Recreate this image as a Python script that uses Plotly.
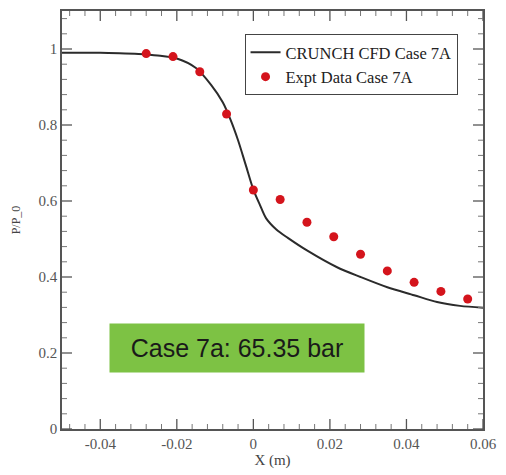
import plotly.graph_objects as go

# CFD curve
cfd_x = [-0.05, -0.04, -0.035, -0.03, -0.025, -0.02, -0.015, -0.011, -0.008, -0.006,
         -0.004, -0.002, 0.0, 0.0017, 0.0033, 0.006, 0.009, 0.014, 0.022, 0.028,
         0.035, 0.042, 0.048, 0.054, 0.06]
cfd_y = [0.99, 0.99, 0.989, 0.987, 0.983, 0.975, 0.950, 0.905, 0.86, 0.815,
         0.76, 0.695, 0.63, 0.59, 0.555, 0.525, 0.503, 0.47, 0.425, 0.40,
         0.373, 0.352, 0.334, 0.324, 0.319]

# Experimental data
exp_x = [-0.028, -0.021, -0.014, -0.007, 0.0, 0.007, 0.014, 0.021, 0.028, 0.035, 0.042, 0.049, 0.056]
exp_y = [0.988, 0.980, 0.940, 0.829, 0.629, 0.604, 0.544, 0.506, 0.460, 0.416, 0.386, 0.362, 0.342]

# Tick values / labels
x_tickvals = [-0.04, -0.02, 0, 0.02, 0.04, 0.06]
x_ticktext = ["-0.04", "-0.02", "0", "0.02", "0.04", "0.06"]
y_tickvals = [0, 0.2, 0.4, 0.6, 0.8, 1.0]
y_ticktext = ["0", "0.2", "0.4", "0.6", "0.8", "1"]
x_minorvals = [round(-0.048 + 0.004 * i, 4) for i in range(28)]
y_minorvals = [round(0.04 * i, 4) for i in range(28)]

serif = "Liberation Serif, Times New Roman, serif"
frame = "#555555"

fig = go.Figure()
fig.add_trace(go.Scatter(x=cfd_x, y=cfd_y, mode="lines", name="CRUNCH CFD Case 7A",
                         line=dict(color="#2b2b2b", width=2, shape="spline", smoothing=0.8)))
fig.add_trace(go.Scatter(x=exp_x, y=exp_y, mode="markers", name="Expt Data Case 7A",
                         marker=dict(color="#d4141c", size=9, line=dict(width=0))))

fig.update_xaxes(range=[-0.05, 0.06], tickmode="array", tickvals=x_tickvals, ticktext=x_ticktext,
                 ticks="", showline=True, linecolor=frame, linewidth=1.5, mirror=True,
                 zeroline=False, showgrid=False,
                 tickfont=dict(family=serif, size=15, color="#555555"),
                 title=dict(text="X (m)", font=dict(family=serif, size=15, color="#444444"), standoff=4))
fig.update_yaxes(range=[0, 1.1], tickmode="array", tickvals=y_tickvals, ticktext=y_ticktext,
                 ticks="", showline=True, linecolor=frame, linewidth=1.5, mirror=True,
                 zeroline=False, showgrid=False,
                 tickfont=dict(family=serif, size=15, color="#555555"),
                 title=dict(text="P/P_0", font=dict(family=serif, size=12, color="#444444")))

# Inside tick marks on all four sides, placed through the axis scales
def x_tick(v, length, width, color):
    for anchor, sign in ((0, 1), (1, -1)):
        fig.add_shape(type="line", xref="x", yref="paper", x0=v, x1=v,
                      ysizemode="pixel", yanchor=anchor, y0=0, y1=sign * length,
                      line=dict(color=color, width=width))

def y_tick(v, length, width, color):
    for anchor, sign in ((0, 1), (1, -1)):
        fig.add_shape(type="line", yref="y", xref="paper", y0=v, y1=v,
                      xsizemode="pixel", xanchor=anchor, x0=0, x1=sign * length,
                      line=dict(color=color, width=width))

for v in x_minorvals:
    if all(abs(v - t) > 1e-9 for t in x_tickvals) and -0.05 < v < 0.06:
        x_tick(v, 5, 1, "#777777")
for v in x_tickvals:
    x_tick(v, 10, 1.3, frame)
for v in y_minorvals:
    if all(abs(v - t) > 1e-9 for t in y_tickvals) and 0 < v < 1.1:
        y_tick(v, 5, 1, "#777777")
for v in y_tickvals:
    y_tick(v, 10, 1.3, frame)

fig.add_annotation(xref="paper", yref="paper", x=(110 - 62) / 426, y=(433 - 351) / 424,
                   xanchor="left", yanchor="middle", text="Case 7a: 65.35 bar",
                   showarrow=False, bgcolor="#7dc244", width=252, height=46,
                   font=dict(family="Liberation Sans, Arial, sans-serif", size=25, color="#1a1a1a"))

fig.update_layout(
    width=506, height=475,
    margin=dict(l=62, r=18, t=9, b=42),
    plot_bgcolor="white", paper_bgcolor="white",
    legend=dict(x=0.4336, y=0.945, xanchor="left", yanchor="top",
                bordercolor="#444444", borderwidth=1, bgcolor="white",
                font=dict(family=serif, size=16.5, color="#222222"),
                tracegroupgap=0, itemwidth=30),
)

fig.write_html("out.html")
